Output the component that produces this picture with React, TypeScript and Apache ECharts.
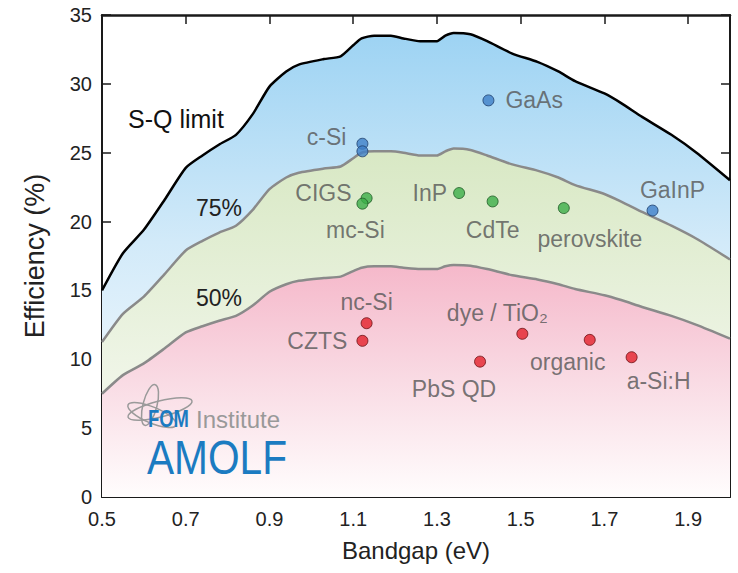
import React, { useEffect, useRef } from "react";
import * as echarts from "echarts";

// Bandgap sample points (eV) for the efficiency limit curves
const bandgaps = [0.5, 0.55, 0.6, 0.65, 0.7, 0.74, 0.78, 0.82, 0.86, 0.9, 0.94, 0.97, 1.03, 1.07, 1.1, 1.12, 1.15, 1.19, 1.22, 1.26, 1.3, 1.32, 1.34, 1.38, 1.42, 1.48, 1.54, 1.59, 1.63, 1.7, 1.74, 1.79, 1.86, 1.92, 2.0];
// Shockley-Queisser limit (%)
const sqLimit = [15.0, 17.7, 19.4, 21.6, 23.9, 24.8, 25.6, 26.3, 27.8, 29.8, 30.9, 31.4, 31.8, 32.0, 32.8, 33.3, 33.5, 33.5, 33.3, 33.1, 33.1, 33.5, 33.7, 33.6, 33.1, 32.2, 31.6, 30.9, 30.2, 29.3, 28.6, 27.6, 26.3, 25.0, 23.0];
// 75% of the S-Q limit (%)
const limit75 = [11.25, 13.3, 14.55, 16.2, 17.9, 18.6, 19.2, 19.7, 20.85, 22.35, 23.2, 23.55, 23.85, 24.0, 24.6, 25.0, 25.1, 25.1, 25.0, 24.8, 24.8, 25.1, 25.3, 25.2, 24.8, 24.15, 23.7, 23.2, 22.65, 22.0, 21.45, 20.7, 19.7, 18.75, 17.25];
// 50% of the S-Q limit (%)
const limit50 = [7.5, 8.85, 9.7, 10.8, 11.95, 12.4, 12.8, 13.15, 13.9, 14.9, 15.45, 15.7, 15.9, 16.0, 16.4, 16.65, 16.75, 16.75, 16.65, 16.55, 16.55, 16.75, 16.85, 16.8, 16.55, 16.1, 15.8, 15.45, 15.1, 14.65, 14.3, 13.8, 13.15, 12.5, 11.5];

// Record cells: above 75% (blue), 50-75% (green), below 50% (red)
const blueNames = ["c-Si", "", "GaAs", "GaInP"];
const blueGaps = [1.122, 1.122, 1.423, 1.815];
const blueEffs = [25.65, 25.1, 28.8, 20.8];

const greenNames = ["CIGS", "mc-Si", "InP", "CdTe", "perovskite"];
const greenGaps = [1.132, 1.122, 1.353, 1.433, 1.603];
const greenEffs = [21.7, 21.3, 22.07, 21.46, 20.98];

const redNames = ["nc-Si", "CZTS", "dye / TiO\u2082", "organic", "PbS QD", "a-Si:H"];
const redGaps = [1.132, 1.122, 1.504, 1.665, 1.403, 1.765];
const redEffs = [12.62, 11.34, 11.85, 11.41, 9.83, 10.15];

const xTicks = ["0.5", "0.7", "0.9", "1.1", "1.3", "1.5", "1.7", "1.9"];

// Label placement (styling only): [align, dx, dy]
const labelPlacement: Record<string, [string, number, number]> = {
  "c-Si": ["right", -16, -7],
  GaAs: ["left", 17, 0],
  GaInP: ["center", 20, -21],
  CIGS: ["right", -15, -5],
  "mc-Si": ["center", -7, 26],
  InP: ["right", -12, 0],
  CdTe: ["center", 0, 29],
  perovskite: ["center", 26, 31],
  "nc-Si": ["center", 0, -21],
  CZTS: ["right", -15, 0],
  "dye / TiO\u2082": ["center", -25, -21],
  organic: ["center", -22, 22],
  "PbS QD": ["center", -26, 27],
  "a-Si:H": ["center", 27, 24],
};

const FONT = "'Liberation Sans', Arial, sans-serif";

function pts(xs: number[], ys: number[]) {
  return xs.map((x, i) => [x, ys[i]]);
}

function cellData(names: string[], xs: number[], ys: number[]) {
  return xs.map((x, i) => {
    const n = names[i];
    const p = labelPlacement[n];
    return {
      value: [x, ys[i]],
      name: n,
      label: p
        ? { show: true, position: "inside", align: p[0], verticalAlign: "middle", offset: [p[1], p[2]], formatter: n }
        : { show: false },
    };
  });
}

export default function App() {
  const ref = useRef<HTMLDivElement>(null);
  useEffect(() => {
    if (!ref.current) return;
    const chart = echarts.init(ref.current, undefined, { renderer: "svg" });
    const axisColor = "#1a1a1a";
    const option: any = {
      animation: false,
      backgroundColor: "#ffffff",
      grid: { left: 102, right: 8, top: 15, bottom: 76 },
      xAxis: [
        {
          type: "value",
          min: 0.5,
          max: 2.0,
          interval: 0.2,
          position: "bottom",
          splitLine: { show: false },
          axisLine: { show: true, onZero: false, lineStyle: { color: axisColor, width: 2 } },
          axisTick: { show: true, inside: true, length: 9, lineStyle: { color: axisColor, width: 1.5 } },
          name: "Bandgap (eV)",
          nameLocation: "middle",
          nameGap: 41,
          nameTextStyle: { fontSize: 24, color: "#222", fontFamily: FONT },
          axisLabel: {
            fontSize: 20,
            color: "#222",
            fontFamily: FONT,
            margin: 12,
            formatter: (v: number) => {
              const s = v.toFixed(1);
              return xTicks.indexOf(s) >= 0 ? s : "";
            },
          },
        },
        {
          type: "value",
          min: 0.5,
          max: 2.0,
          interval: 0.2,
          position: "top",
          splitLine: { show: false },
          axisLine: { show: true, onZero: false, lineStyle: { color: axisColor, width: 2.5 } },
          axisTick: { show: true, inside: true, length: 9, lineStyle: { color: axisColor, width: 1.5 } },
          axisLabel: { show: false },
        },
      ],
      yAxis: [
        {
          type: "value",
          min: 0,
          max: 35,
          interval: 5,
          position: "left",
          splitLine: { show: false },
          axisLine: { show: true, onZero: false, lineStyle: { color: axisColor, width: 2 } },
          axisTick: { show: true, inside: true, length: 9, lineStyle: { color: axisColor, width: 1.5 } },
          name: "Efficiency (%)",
          nameLocation: "middle",
          nameGap: 54,
          nameRotate: 90,
          nameTextStyle: { fontSize: 27, color: "#222", fontFamily: FONT },
          axisLabel: { fontSize: 20, color: "#222", fontFamily: FONT, margin: 10 },
        },
        {
          type: "value",
          min: 0,
          max: 35,
          interval: 5,
          position: "right",
          splitLine: { show: false },
          axisLine: { show: true, onZero: false, lineStyle: { color: axisColor, width: 2 } },
          axisTick: { show: true, inside: true, length: 9, lineStyle: { color: axisColor, width: 1.5 } },
          axisLabel: { show: false },
        },
      ],
      series: [
        {
          type: "line",
          name: "S-Q limit",
          data: pts(bandgaps, sqLimit),
          showSymbol: false,
          smooth: 0.2,
          lineStyle: { color: "#000", width: 2.5 },
          areaStyle: {
            origin: "start",
            opacity: 1,
            color: new echarts.graphic.LinearGradient(0, 0, 0, 1, [
              { offset: 0, color: "#9dd3f3" },
              { offset: 0.45, color: "#d2eaf9" },
              { offset: 1, color: "#ffffff" },
            ]),
          },
          z: 2,
        },
        {
          type: "line",
          name: "75%",
          data: pts(bandgaps, limit75),
          showSymbol: false,
          smooth: 0.2,
          lineStyle: { color: "#8a8a8a", width: 2.5 },
          areaStyle: {
            origin: "start",
            opacity: 1,
            color: new echarts.graphic.LinearGradient(0, 0, 0, 1, [
              { offset: 0, color: "#d8e8c4" },
              { offset: 0.6, color: "#edf4e4" },
              { offset: 1, color: "#fafcf6" },
            ]),
          },
          z: 3,
        },
        {
          type: "line",
          name: "50%",
          data: pts(bandgaps, limit50),
          showSymbol: false,
          smooth: 0.2,
          lineStyle: { color: "#8a8a8a", width: 2.5 },
          areaStyle: {
            origin: "start",
            opacity: 1,
            color: new echarts.graphic.LinearGradient(0, 0, 0, 1, [
              { offset: 0, color: "#f5b8ca" },
              { offset: 0.5, color: "#f9dbe4" },
              { offset: 1, color: "#fffdfd" },
            ]),
          },
          z: 4,
        },
        {
          type: "scatter",
          name: "above 75%",
          data: cellData(blueNames, blueGaps, blueEffs),
          symbolSize: 11,
          itemStyle: { color: "#3f80c8", borderColor: "#1f3f6a", borderWidth: 1 },
          label: { fontSize: 23, color: "#555", fontFamily: FONT },
          z: 10,
        },
        {
          type: "scatter",
          name: "50-75%",
          data: cellData(greenNames, greenGaps, greenEffs),
          symbolSize: 11,
          itemStyle: { color: "#3cae48", borderColor: "#1f5a25", borderWidth: 1 },
          label: { fontSize: 23, color: "#555", fontFamily: FONT },
          z: 10,
        },
        {
          type: "scatter",
          name: "below 50%",
          data: cellData(redNames, redGaps, redEffs),
          symbolSize: 11,
          itemStyle: { color: "#e3202a", borderColor: "#6a1014", borderWidth: 1 },
          label: { fontSize: 23, color: "#555", fontFamily: FONT },
          z: 10,
        },
      ],
      graphic: [
        { type: "text", left: 128, top: 106, z: 20, style: { text: "S-Q limit", fontSize: 25, fill: "#111", fontFamily: FONT } },
        { type: "text", left: 196, top: 196, z: 20, style: { text: "75%", fontSize: 23, fill: "#222", fontFamily: FONT } },
        { type: "text", left: 196, top: 286, z: 20, style: { text: "50%", fontSize: 23, fill: "#222", fontFamily: FONT } },
        { type: "ellipse", x: 150, y: 405, rotation: -0.25, z: 20, shape: { cx: 0, cy: 0, rx: 7, ry: 21 }, style: { fill: "none", stroke: "#9a9a9a", lineWidth: 1.5 } },
        { type: "ellipse", x: 160, y: 409, rotation: 0.25, z: 20, shape: { cx: 0, cy: 0, rx: 33, ry: 8 }, style: { fill: "none", stroke: "#9a9a9a", lineWidth: 1.5 } },
        { type: "ellipse", x: 152, y: 415, rotation: -0.4, z: 20, shape: { cx: 0, cy: 0, rx: 26, ry: 8 }, style: { fill: "none", stroke: "#9a9a9a", lineWidth: 1.5 } },
        { type: "text", x: 148, y: 419, scaleX: 0.8, z: 21, style: { text: "FOM", fontSize: 23, fontWeight: "bold", fill: "#1b7bc1", fontFamily: FONT, verticalAlign: "middle", align: "left" } },
        { type: "text", x: 196, y: 419, z: 21, style: { text: "Institute", fontSize: 24, fill: "#999", fontFamily: FONT, verticalAlign: "middle", align: "left" } },
        { type: "text", x: 147, y: 457, scaleX: 0.83, z: 21, style: { text: "AMOLF", fontSize: 49, fill: "#1b7bc1", fontFamily: FONT, verticalAlign: "middle", align: "left" } },
      ],
    };
    chart.setOption(option);
    return () => chart.dispose();
  }, []);
  return <div ref={ref} style={{ position: "fixed", left: 0, top: 0, width: 738, height: 573 }} />;
}
